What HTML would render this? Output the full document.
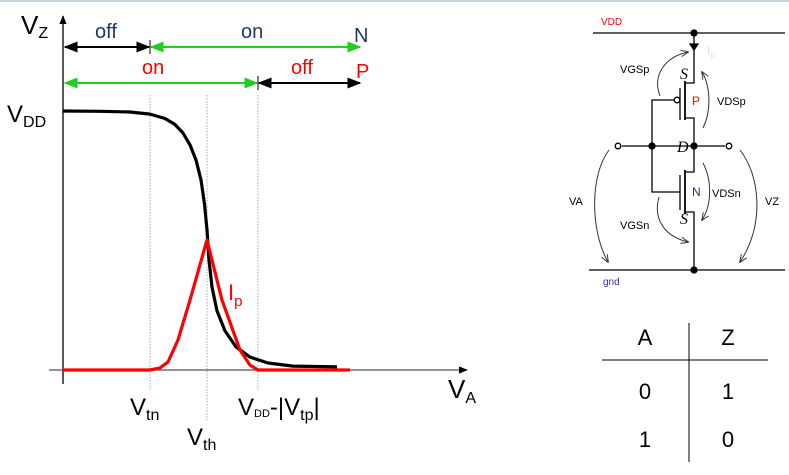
<!DOCTYPE html>
<html><head><meta charset="utf-8"><style>
html,body{margin:0;padding:0;background:#fff;}
svg{display:block;font-family:"Liberation Sans",sans-serif;}
</style></head><body>
<svg width="789" height="475" viewBox="0 0 789 475">
<defs>
<marker id="ah" viewBox="0 0 10 10" refX="9" refY="5" markerWidth="7" markerHeight="7" orient="auto-start-reverse"><path d="M0,1 L10,5 L0,9 z" fill="#000"/></marker>
<marker id="ahg" viewBox="0 0 10 10" refX="9" refY="5" markerWidth="7" markerHeight="7" orient="auto-start-reverse"><path d="M0,1 L10,5 L0,9 z" fill="#22cc22"/></marker>
<marker id="ahs" viewBox="0 0 10 10" refX="9" refY="5" markerWidth="8" markerHeight="8" orient="auto"><path d="M0,1 L10,5 L0,9" fill="none" stroke="#333" stroke-width="1.2"/></marker>
</defs>
<rect x="0" y="0" width="789" height="2" fill="#c8d4e0"/>

<g id="chart">
<line x1="63" y1="384" x2="63" y2="16" stroke="#000" stroke-width="1.3" marker-end="url(#ah)"/>
<line x1="49" y1="370" x2="467" y2="370" stroke="#555" stroke-width="1.3" marker-end="url(#ah)"/>
<text x="21" y="34" font-size="26">V<tspan font-size="16" dy="4">Z</tspan></text>
<text x="7" y="122" font-size="24">V<tspan font-size="16" dy="5">DD</tspan></text>
<text x="448" y="398" font-size="26">V<tspan font-size="16" dy="5">A</tspan></text>
<text x="130" y="415" font-size="24">V<tspan font-size="16" dy="5">tn</tspan></text>
<text x="187" y="445" font-size="24">V<tspan font-size="16" dy="5">th</tspan></text>
<text x="238" y="415" font-size="24">V<tspan font-size="11" dy="2">DD</tspan><tspan dy="-2">-|V</tspan><tspan font-size="16" dy="5">tp</tspan><tspan dy="-5">|</tspan></text>
<text x="228" y="300" font-size="22" fill="#ff0000">I<tspan font-size="15" dy="6">p</tspan></text>

<line x1="65" y1="47" x2="149" y2="47" stroke="#000" stroke-width="2" marker-start="url(#ah)" marker-end="url(#ah)"/>
<line x1="151" y1="47" x2="360" y2="47" stroke="#22cc22" stroke-width="2" marker-start="url(#ahg)" marker-end="url(#ahg)"/>
<line x1="150" y1="40" x2="150" y2="54" stroke="#000" stroke-width="1"/>
<line x1="65" y1="83" x2="257" y2="83" stroke="#22cc22" stroke-width="2" marker-start="url(#ahg)" marker-end="url(#ahg)"/>
<line x1="259" y1="83" x2="360" y2="83" stroke="#000" stroke-width="2" marker-start="url(#ah)" marker-end="url(#ah)"/>
<line x1="258" y1="76" x2="258" y2="90" stroke="#000" stroke-width="1"/>
<text x="95" y="38" font-size="20" fill="#1f3864">off</text>
<text x="241" y="38" font-size="20" fill="#1f3864">on</text>
<text x="354" y="42" font-size="20" fill="#1f3864">N</text>
<text x="142" y="74" font-size="20" fill="#ff0000">on</text>
<text x="291" y="74" font-size="20" fill="#ff0000">off</text>
<text x="356" y="78" font-size="20" fill="#ff0000">P</text>
<g id="guides"></g>
<g id="series"></g>
</g>

<g fill="none" stroke="#000" stroke-width="1.3">
<line x1="593" y1="33" x2="785" y2="33"/>
<line x1="589" y1="270" x2="785" y2="270"/>
<polyline points="694,33 694,83 685,83"/>
<line x1="685" y1="81" x2="685" y2="120" stroke-width="1.8"/>
<polyline points="685,118 694,118 694,172 685,172"/>
<line x1="685" y1="170" x2="685" y2="214" stroke-width="1.8"/>
<polyline points="685,212 694,212 694,270"/>
<line x1="680" y1="88" x2="680" y2="120"/>
<line x1="680" y1="175" x2="680" y2="210"/>
<polyline points="676,100 652,100 652,192 680,192"/>
<line x1="622" y1="146" x2="694" y2="146"/>
<line x1="694" y1="146" x2="725" y2="146"/>
<circle cx="677" cy="100" r="2.8" fill="#fff"/>
<circle cx="618" cy="146" r="2.8" fill="#fff"/>
<circle cx="729" cy="146" r="2.8" fill="#fff"/>
<circle cx="694" cy="33" r="3" fill="#000"/>
<circle cx="694" cy="146" r="3" fill="#000"/>
<circle cx="652" cy="146" r="3" fill="#000"/>
<circle cx="694" cy="270" r="3" fill="#000"/>
<path d="M694,50 L690,44 L698,44 z" fill="#000"/>
<path d="M660,96 C652,75 665,57 688,52" stroke="#333" stroke-width="1" marker-end="url(#ahs)"/>
<path d="M703,128 C712,110 710,85 702,72" stroke="#333" stroke-width="1" marker-end="url(#ahs)"/>
<path d="M703,163 C712,180 712,205 702,220" stroke="#333" stroke-width="1" marker-end="url(#ahs)"/>
<path d="M659,197 C654,215 660,235 688,242" stroke="#333" stroke-width="1" marker-end="url(#ahs)"/>
<path d="M609,150 C590,175 590,230 608,262" stroke="#333" stroke-width="1" marker-end="url(#ahs)"/>
<path d="M740,150 C760,175 765,225 740,262" stroke="#333" stroke-width="1" marker-end="url(#ahs)"/>
</g>
<g font-size="11">
<text x="601" y="25" fill="#ff0000" font-size="10">VDD</text>
<text x="603" y="285" fill="#3030a0" font-size="10">gnd</text>
<text x="707" y="55" fill="#e8e0cc" font-size="12">I<tspan font-size="8" dy="3">p</tspan></text>
<text x="620" y="73">VGSp</text>
<text x="717" y="105">VDSp</text>
<text x="620" y="229">VGSn</text>
<text x="712" y="197">VDSn</text>
<text x="569" y="205">VA</text>
<text x="765" y="205">VZ</text>
<text x="692" y="105" fill="#ff0000" font-size="12">P</text>
<text x="692" y="196" fill="#1f3864" font-size="12">N</text>
<text x="680" y="79" font-family="Liberation Serif,serif" font-style="italic" font-size="16">S</text>
<text x="680" y="224" font-family="Liberation Serif,serif" font-style="italic" font-size="16">S</text>
<text x="677" y="152" font-family="Liberation Serif,serif" font-style="italic" font-size="16">D</text>
</g>

<g font-size="22">
<line x1="689" y1="323" x2="689" y2="462" stroke="#000" stroke-width="1"/>
<line x1="602" y1="360" x2="768" y2="360" stroke="#000" stroke-width="1"/>
<text x="645" y="345" text-anchor="middle">A</text>
<text x="728" y="345" text-anchor="middle">Z</text>
<text x="645" y="399" text-anchor="middle">0</text>
<text x="728" y="399" text-anchor="middle">1</text>
<text x="645" y="447" text-anchor="middle">1</text>
<text x="728" y="447" text-anchor="middle">0</text>
</g>
</svg>
<script>
const guideVals = [1.516, 2.509, 3.397];
const vzX = [0, 0.645, 1.167, 1.516, 1.777, 1.951, 2.090, 2.213, 2.317, 2.404, 2.465, 2.509, 2.544, 2.596, 2.683, 2.822, 3.014, 3.258, 3.571, 4.007, 4.774];
const vzY = [1.0, 0.999, 0.996, 0.988, 0.971, 0.948, 0.915, 0.869, 0.811, 0.734, 0.641, 0.541, 0.425, 0.320, 0.228, 0.151, 0.089, 0.050, 0.027, 0.015, 0.012];
const ipX = [0, 1.516, 1.690, 1.829, 2.003, 2.213, 2.509, 2.770, 3.084, 3.258, 3.397, 5.0];
const ipY = [0, 0, 0.008, 0.031, 0.116, 0.270, 0.502, 0.270, 0.077, 0.019, 0, 0];
const NS = "http://www.w3.org/2000/svg";
function sx(v){ return 63 + v * 57.4; }
function sy(v){ return 370 - v * 259; }
const gg = document.getElementById('guides');
guideVals.forEach(function(v, i){
  const l = document.createElementNS(NS, 'line');
  
  
  l.setAttribute('x1', sx(v)); l.setAttribute('x2', sx(v));
  l.setAttribute('y1', 95); l.setAttribute('y2', i === 1 ? 420 : 390);
  l.setAttribute('stroke', '#aaa'); l.setAttribute('stroke-width', '1'); l.setAttribute('stroke-dasharray', '1.5,1.5');
  gg.appendChild(l);
});
const sg = document.getElementById('series');
function addLine(xs, ys, color, name){
  const p = document.createElementNS(NS, 'polyline');
  
  
  p.setAttribute('points', xs.map(function(x, i){ return sx(x).toFixed(1) + ',' + sy(ys[i]).toFixed(1); }).join(' '));
  p.setAttribute('fill', 'none'); p.setAttribute('stroke', color); p.setAttribute('stroke-width', '3.2');
  p.setAttribute('stroke-linejoin', 'round');
  sg.appendChild(p);
}
addLine(vzX, vzY, '#000', 'vz-curve');
addLine(ipX, ipY, '#ff0000', 'ip-curve');
</script>
</body></html>
